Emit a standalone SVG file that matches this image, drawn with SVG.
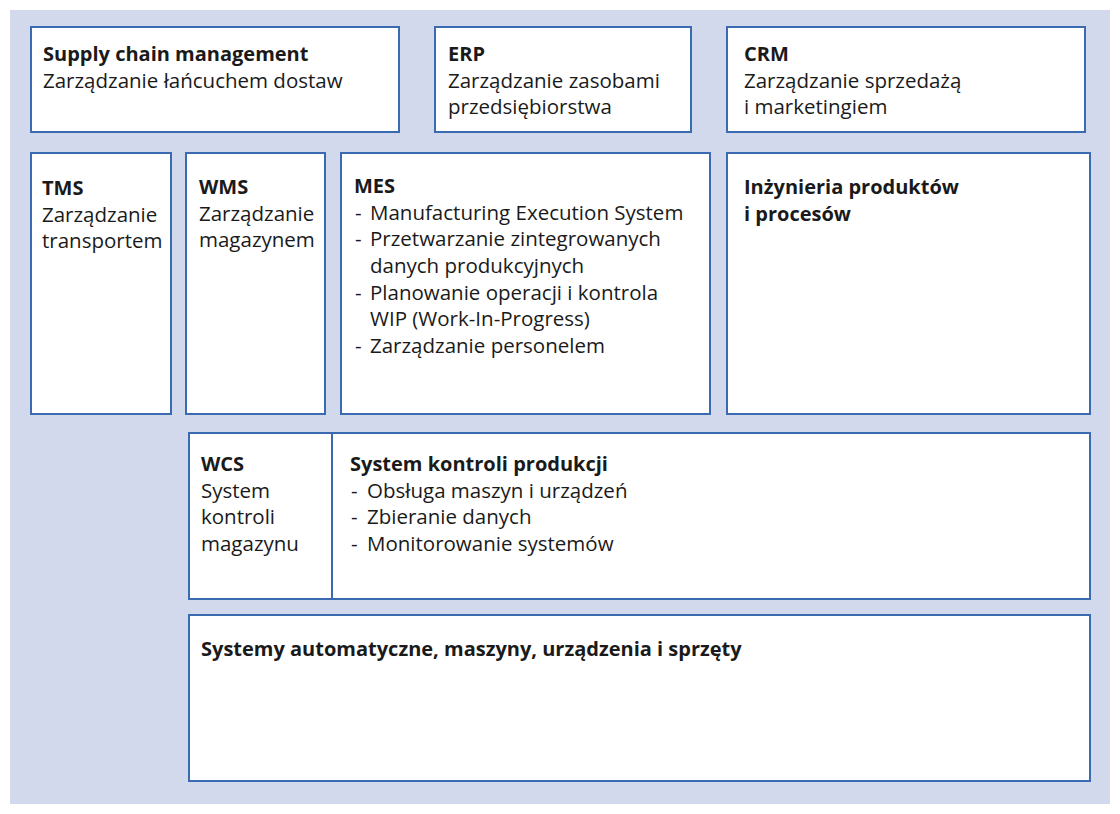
<svg xmlns="http://www.w3.org/2000/svg" width="1120" height="814" viewBox="0 0 1120 814">
<style>
.b{fill:#fff;stroke:#3a6bb0;stroke-width:2}
text{font-family:"Open Sans","Liberation Sans",sans-serif;font-size:20.5px;fill:#1a1a1a}
.h{font-weight:bold;font-size:20px}
</style>
<rect x="0" y="0" width="1120" height="814" fill="#fff"/>
<rect x="10" y="10" width="1100" height="794" fill="#d3d9ec"/>
<g id="scm"><rect class="b" x="31" y="27" width="368" height="105"/>
<text x="43" y="61" class="h">Supply chain management</text><text x="43" y="88">Zarządzanie łańcuchem dostaw</text></g>
<g id="erp"><rect class="b" x="435" y="27" width="256" height="105"/>
<text x="448" y="61" class="h">ERP</text><text x="448" y="88">Zarządzanie zasobami</text><text x="448" y="114">przedsiębiorstwa</text></g>
<g id="crm"><rect class="b" x="727" y="27" width="358" height="105"/>
<text x="744" y="61" class="h">CRM</text><text x="744" y="88">Zarządzanie sprzedażą</text><text x="744" y="114">i marketingiem</text></g>
<g id="tms"><rect class="b" x="31" y="153" width="140" height="261"/>
<text x="42" y="195" class="h">TMS</text><text x="42" y="222">Zarządzanie</text><text x="42" y="248">transportem</text></g>
<g id="wms"><rect class="b" x="186" y="153" width="139" height="261"/>
<text x="199" y="194" class="h">WMS</text><text x="199" y="221">Zarządzanie</text><text x="199" y="247">magazynem</text></g>
<g id="mes"><rect class="b" x="341" y="153" width="369" height="261"/>
<text x="354" y="193" class="h">MES</text>
<text x="355" y="220">-</text><text x="370" y="220">Manufacturing Execution System</text>
<text x="355" y="246">-</text><text x="370" y="246">Przetwarzanie zintegrowanych</text>
<text x="370" y="273">danych produkcyjnych</text>
<text x="355" y="300">-</text><text x="370" y="300">Planowanie operacji i kontrola</text>
<text x="370" y="326">WIP (Work-In-Progress)</text>
<text x="355" y="353">-</text><text x="370" y="353">Zarządzanie personelem</text></g>
<g id="inz"><rect class="b" x="727" y="153" width="363" height="261"/>
<text x="744" y="194" class="h">Inżynieria produktów</text><text x="744" y="221" class="h">i procesów</text></g>
<g id="wcs"><rect class="b" x="189" y="433" width="901" height="166"/>
<line x1="332" y1="433" x2="332" y2="599" stroke="#3a6bb0" stroke-width="2"/>
<text x="201" y="471" class="h">WCS</text><text x="201" y="498">System</text><text x="201" y="524">kontroli</text><text x="201" y="551">magazynu</text></g>
<g id="spk">
<text x="350" y="471" class="h">System kontroli produkcji</text>
<text x="351" y="498">-</text><text x="367" y="498">Obsługa maszyn i urządzeń</text>
<text x="351" y="524">-</text><text x="367" y="524">Zbieranie danych</text>
<text x="351" y="551">-</text><text x="367" y="551">Monitorowanie systemów</text></g>
<g id="auto"><rect class="b" x="189" y="615" width="901" height="166"/>
<text x="201" y="656" class="h">Systemy automatyczne, maszyny, urządzenia i sprzęty</text></g>
<g id="connectors"/>
</svg>
